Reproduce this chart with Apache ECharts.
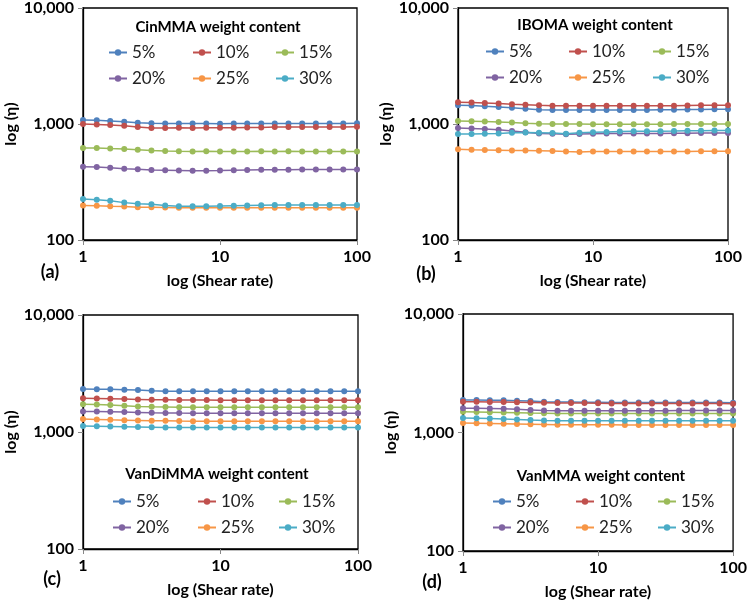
<!DOCTYPE html>
<html>
<head>
<meta charset="utf-8">
<script src="https://cdn.jsdelivr.net/npm/echarts@6/dist/echarts.min.js"></script>
<style>
  html, body { margin: 0; padding: 0; background: #fff; }
  #chart { width: 750px; height: 609px; }
</style>
</head>
<body>
<div id="chart"></div>
<script>
// shear rate (x), same for every panel
const shear = [1, 1.26, 1.58, 2, 2.51, 3.16, 3.98, 5.01, 6.31, 7.94, 10, 12.6, 15.8, 20, 25.1, 31.6, 39.8, 50.1, 63.1, 79.4, 100]
const seriesNames = ['5%', '10%', '15%', '20%', '25%', '30%']
const colors = ['#4F81BD', '#C0504D', '#9BBB59', '#8064A2', '#F79646', '#4BACC6']
const yTicks = [100, 1000, 10000]
const xTicks = [1, 10, 100]

// (a) CinMMA
const cin05 = [1085, 1075, 1060, 1045, 1025, 1015, 1010, 1010, 1010, 1010, 1005, 1010, 1010, 1010, 1010, 1010, 1010, 1010, 1010, 1010, 1015]
const cin10 = [1000, 990, 980, 965, 940, 925, 925, 930, 925, 930, 930, 930, 935, 935, 940, 940, 940, 940, 940, 940, 945]
const cin15 = [620, 620, 615, 610, 600, 590, 585, 582, 580, 582, 580, 580, 580, 582, 580, 582, 580, 580, 580, 580, 580]
const cin20 = [428, 425, 420, 412, 408, 402, 400, 398, 396, 395, 397, 400, 402, 404, 404, 404, 405, 405, 405, 405, 405]
const cin25 = [198, 197, 195, 194, 192, 192, 191, 190, 190, 190, 190, 190, 190, 190, 190, 190, 190, 190, 190, 190, 190]
const cin30 = [226, 222, 218, 210, 205, 203, 198, 195, 195, 195, 196, 197, 198, 199, 200, 200, 200, 200, 200, 200, 200]

// (b) IBOMA
const ibo05 = [1450, 1445, 1420, 1400, 1380, 1355, 1330, 1320, 1320, 1320, 1320, 1320, 1320, 1320, 1320, 1325, 1330, 1335, 1335, 1340, 1340]
const ibo10 = [1540, 1530, 1515, 1500, 1480, 1465, 1450, 1440, 1440, 1440, 1440, 1440, 1440, 1440, 1440, 1440, 1440, 1445, 1450, 1450, 1450]
const ibo15 = [1060, 1055, 1050, 1040, 1030, 1015, 1005, 1000, 998, 998, 996, 996, 996, 996, 996, 996, 998, 998, 998, 998, 998]
const ibo20 = [925, 915, 905, 890, 870, 850, 830, 825, 815, 820, 825, 830, 830, 830, 830, 830, 832, 832, 835, 835, 836]
const ibo25 = [605, 600, 598, 595, 592, 590, 588, 585, 578, 575, 578, 580, 580, 580, 580, 580, 580, 580, 582, 582, 582]
const ibo30 = [820, 820, 825, 830, 840, 845, 840, 835, 825, 840, 850, 855, 860, 865, 865, 868, 870, 875, 875, 878, 880]

// (c) VanDiMMA
const vdi05 = [2330, 2320, 2315, 2300, 2280, 2250, 2235, 2230, 2230, 2230, 2225, 2225, 2225, 2225, 2225, 2225, 2225, 2225, 2225, 2225, 2225]
const vdi10 = [1940, 1930, 1920, 1910, 1900, 1890, 1885, 1880, 1875, 1875, 1870, 1870, 1870, 1870, 1870, 1865, 1865, 1865, 1865, 1865, 1865]
const vdi15 = [1725, 1715, 1700, 1680, 1655, 1640, 1635, 1630, 1630, 1630, 1630, 1630, 1630, 1630, 1630, 1630, 1630, 1630, 1630, 1630, 1630]
const vdi20 = [1500, 1495, 1490, 1480, 1470, 1460, 1455, 1450, 1448, 1446, 1445, 1445, 1445, 1445, 1445, 1445, 1445, 1445, 1445, 1445, 1445]
const vdi25 = [1290, 1280, 1270, 1262, 1255, 1248, 1245, 1240, 1238, 1238, 1235, 1235, 1235, 1235, 1235, 1235, 1235, 1235, 1235, 1235, 1235]
const vdi30 = [1125, 1120, 1115, 1110, 1105, 1100, 1095, 1092, 1090, 1090, 1090, 1090, 1090, 1090, 1090, 1090, 1090, 1090, 1090, 1090, 1090]

// (d) VanMMA
const van05 = [1880, 1880, 1875, 1870, 1855, 1840, 1820, 1810, 1805, 1800, 1800, 1795, 1795, 1795, 1795, 1795, 1795, 1795, 1795, 1790, 1785]
const van10 = [1820, 1815, 1810, 1805, 1800, 1790, 1780, 1770, 1770, 1770, 1765, 1760, 1760, 1760, 1760, 1760, 1760, 1760, 1760, 1755, 1750]
const van15 = [1495, 1490, 1485, 1478, 1470, 1460, 1455, 1450, 1450, 1450, 1450, 1450, 1448, 1448, 1448, 1448, 1448, 1448, 1448, 1448, 1448]
const van20 = [1605, 1600, 1595, 1590, 1570, 1550, 1530, 1525, 1525, 1525, 1525, 1525, 1525, 1525, 1525, 1525, 1530, 1530, 1535, 1535, 1535]
const van25 = [1200, 1195, 1190, 1185, 1180, 1175, 1170, 1165, 1162, 1160, 1160, 1160, 1158, 1158, 1158, 1158, 1158, 1156, 1156, 1155, 1155]
const van30 = [1325, 1320, 1310, 1300, 1290, 1275, 1265, 1258, 1255, 1255, 1255, 1255, 1255, 1255, 1255, 1255, 1255, 1255, 1255, 1255, 1255]

const panels = [
  { tag: '(a)', title: 'CinMMA weight content', data: [cin05, cin10, cin15, cin20, cin25, cin30],
    grid: { left: 83, top: 8, width: 274, height: 232 }, legendX: [108, 192, 275], legendY: [54, 80], titlePos: [218, 27], tagPos: [50, 272] },
  { tag: '(b)', title: 'IBOMA weight content', data: [ibo05, ibo10, ibo15, ibo20, ibo25, ibo30],
    grid: { left: 458, top: 8, width: 270, height: 232 }, legendX: [485, 568, 652], legendY: [53, 79], titlePos: [595, 25], tagPos: [426, 274] },
  { tag: '(c)', title: 'VanDiMMA weight content', data: [vdi05, vdi10, vdi15, vdi20, vdi25, vdi30],
    grid: { left: 83, top: 315, width: 275, height: 234 }, legendX: [112, 197, 278], legendY: [503, 529], titlePos: [217, 474], tagPos: [52, 579] },
  { tag: '(d)', title: 'VanMMA weight content', data: [van05, van10, van15, van20, van25, van30],
    grid: { left: 463, top: 314, width: 273, height: 237 }, legendX: [492, 575, 657], legendY: [503, 529], titlePos: [601, 476], tagPos: [432, 582] }
]

const fontFamily = 'Lato, "Open Sans", sans-serif'
const grids = []
const xAxes = []
const yAxes = []
const series = []
const legends = []
const graphics = []

panels.forEach((p, i) => {
  grids.push(Object.assign({ show: true, borderColor: '#000', borderWidth: 1.3, backgroundColor: 'transparent' }, p.grid))
  xAxes.push({
    type: 'log', logBase: 10, gridIndex: i, min: xTicks[0], max: xTicks[xTicks.length - 1],
    name: 'log (Shear rate)', nameLocation: 'middle', nameGap: 33,
    nameTextStyle: { fontFamily, fontWeight: 'bold', fontSize: 16, color: '#000' },
    axisLine: { lineStyle: { color: '#000', width: 1.3 } },
    axisTick: { show: true, length: 5, lineStyle: { color: '#888' } },
    axisLabel: { fontFamily, fontWeight: 'bold', fontSize: 16, color: '#000', margin: 9 },
    splitLine: { show: false }, minorTick: { show: false }
  })
  yAxes.push({
    type: 'log', logBase: 10, gridIndex: i, min: yTicks[0], max: yTicks[yTicks.length - 1],
    name: 'log (η)', nameLocation: 'middle', nameGap: 64,
    nameTextStyle: { fontFamily, fontWeight: 'bold', fontSize: 16, color: '#000' },
    axisLine: { lineStyle: { color: '#000', width: 1.3 } },
    axisTick: { show: true, length: 5, lineStyle: { color: '#888' } },
    axisLabel: { fontFamily, fontWeight: 'bold', fontSize: 16, color: '#000', margin: 9,
      formatter: v => Number(v).toLocaleString('en-US') },
    splitLine: { show: false }, minorTick: { show: false }
  })
  p.data.forEach((vals, k) => {
    series.push({
      name: seriesNames[k], type: 'line', xAxisIndex: i, yAxisIndex: i,
      data: shear.map((x, j) => [x, vals[j]]),
      symbol: 'circle', symbolSize: 6,
      itemStyle: { color: colors[k] },
      lineStyle: { color: colors[k], width: 1.5 },
      animation: false
    })
    // one legend per entry: 3 columns x 2 rows
    legends.push({
      data: [seriesNames[k]],
      left: p.legendX[k % 3], top: p.legendY[Math.floor(k / 3)] - 10,
      padding: 0, itemWidth: 18, itemHeight: 8,
      selectedMode: false,
      textStyle: { fontFamily, fontSize: 17, color: '#222' }
    })
  })
  graphics.push({
    type: 'text', x: p.titlePos[0], y: p.titlePos[1],
    style: { text: p.title, fontFamily, fontWeight: 'bold', fontSize: 15, fill: '#000', textAlign: 'center', textVerticalAlign: 'middle' }
  })
  graphics.push({
    type: 'text', x: p.tagPos[0], y: p.tagPos[1],
    style: { text: p.tag, fontFamily, fontWeight: 'bold', fontSize: 18, fill: '#000', textAlign: 'center', textVerticalAlign: 'middle' }
  })
})

const chart = echarts.init(document.getElementById('chart'))
chart.setOption({
  backgroundColor: '#fff',
  animation: false,
  grid: grids,
  xAxis: xAxes,
  yAxis: yAxes,
  legend: legends,
  series: series,
  // legend titles and panel tags
  graphic: graphics
})
</script>
</body>
</html>
